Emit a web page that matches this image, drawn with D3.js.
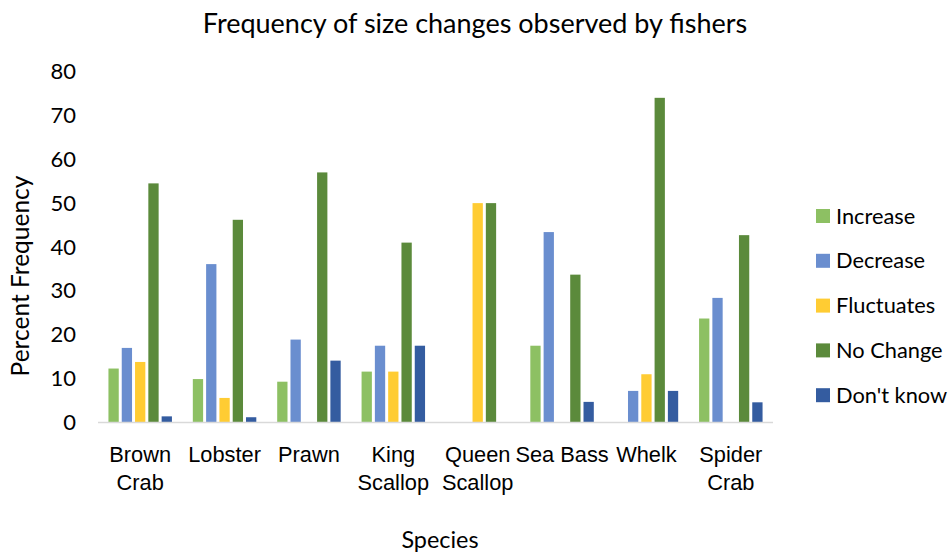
<!DOCTYPE html>
<html>
<head>
<meta charset="utf-8">
<script src="https://cdn.jsdelivr.net/npm/d3@7"></script>
<style>
  html, body { margin: 0; padding: 0; background: #fff; }
  svg { display: block; font-family: Lato, "Open Sans", sans-serif; }
</style>
</head>
<body>
<svg id="chart" width="951" height="556"></svg>
<script>
// Species along the x axis (two-line labels split on "|")
const categories = ["Brown|Crab", "Lobster", "Prawn", "King|Scallop", "Queen|Scallop", "Sea Bass", "Whelk", "Spider|Crab"];
const seriesNames = ["Increase", "Decrease", "Fluctuates", "No Change", "Don't know"];

// Percent frequency per species (null = no response in that class)
const increase   = [12.3,  9.9,  9.3, 11.6, null, 17.5, null, 23.7];
const decrease   = [17.0, 36.1, 18.9, 17.5, null, 43.4,  7.2, 28.4];
const fluctuates = [13.8,  5.6, null, 11.6, 50.0, null, 11.0, null];
const noChange   = [54.5, 46.2, 57.0, 41.0, 50.0, 33.7, 74.0, 42.7];
const dontKnow   = [ 1.4,  1.2, 14.1, 17.5, null,  4.7,  7.2,  4.6];

const yTicks = [0, 10, 20, 30, 40, 50, 60, 70, 80];
const colors = ["#8DC063", "#6A8ECF", "#FFCC33", "#5B8A3B", "#345CA0"];

const seriesValues = [increase, decrease, fluctuates, noChange, dontKnow];

const svg = d3.select("#chart");
const plot = { left: 98, right: 773, top: 71.5, bottom: 422.5 };

const x0 = d3.scaleBand()
  .domain(categories)
  .range([plot.left, plot.right])
  .paddingInner(0.212)
  .paddingOuter(0.106);

const x1 = d3.scaleBand()
  .domain(seriesNames)
  .range([0, x0.bandwidth()]);

const y = d3.scaleLinear().domain([0, 80]).range([plot.bottom, plot.top]);
const color = d3.scaleOrdinal().domain(seriesNames).range(colors);

// Title
svg.append("text")
  .attr("x", 475).attr("y", 33)
  .attr("text-anchor", "middle")
  .attr("font-size", 27)
  .attr("fill", "#000")
  .text("Frequency of size changes observed by fishers");

// Y axis: labels only, no line or tick marks
const yAxis = d3.axisLeft(y).tickValues(yTicks).tickSize(0).tickPadding(0);
const yg = svg.append("g").attr("transform", `translate(76,0)`).call(yAxis);
yg.select(".domain").remove();
yg.selectAll("text").attr("font-size", 22).attr("fill", "#000").attr("font-family", "Lato, sans-serif");

// Bars
const groups = svg.append("g").selectAll("g")
  .data(categories)
  .join("g")
  .attr("transform", d => `translate(${x0(d)},0)`);

groups.selectAll("rect")
  .data((c, ci) => seriesNames.map((s, si) => ({ s, v: seriesValues[si][ci] })).filter(d => d.v != null))
  .join("rect")
  .attr("x", d => x1(d.s) + 1.5)
  .attr("width", x1.bandwidth() - 3)
  .attr("y", d => y(d.v))
  .attr("height", d => y(0) - y(d.v))
  .attr("fill", d => color(d.s));

// X axis baseline + category labels
const xAxis = d3.axisBottom(x0).tickSize(0).tickFormat(() => "");
const xg = svg.append("g").attr("transform", `translate(0,${plot.bottom})`).call(xAxis);
xg.select(".domain").attr("stroke", "#D9D9D9").attr("stroke-width", 1.5)
  .attr("d", `M${plot.left},0H${plot.right}`);

xg.selectAll(".tick").each(function(d) {
  const t = d3.select(this).append("text")
    .attr("text-anchor", "middle")
    .attr("font-size", 21.8)
    .attr("fill", "#000");
  d.split("|").forEach((line, i) => {
    t.append("tspan").attr("x", 0).attr("y", 39 + i * 28.5).text(line);
  });
});

// Axis titles
svg.append("text")
  .attr("x", 440).attr("y", 548)
  .attr("text-anchor", "middle")
  .attr("font-size", 23.4)
  .attr("fill", "#000")
  .text("Species");

svg.append("text")
  .attr("transform", "translate(28.5,276) rotate(-90)")
  .attr("text-anchor", "middle")
  .attr("font-size", 24.5)
  .attr("fill", "#000")
  .text("Percent Frequency");

// Legend
const legend = svg.append("g").selectAll("g")
  .data(seriesNames)
  .join("g")
  .attr("transform", (d, i) => `translate(816,${216 + i * 44.8})`);

legend.append("rect")
  .attr("x", 0).attr("y", -7)
  .attr("width", 14).attr("height", 14)
  .attr("fill", d => color(d));

legend.append("text")
  .attr("x", 20).attr("y", 7.5)
  .attr("font-size", 21.8)
  .attr("fill", "#000")
  .text(d => d);
</script>
</body>
</html>
